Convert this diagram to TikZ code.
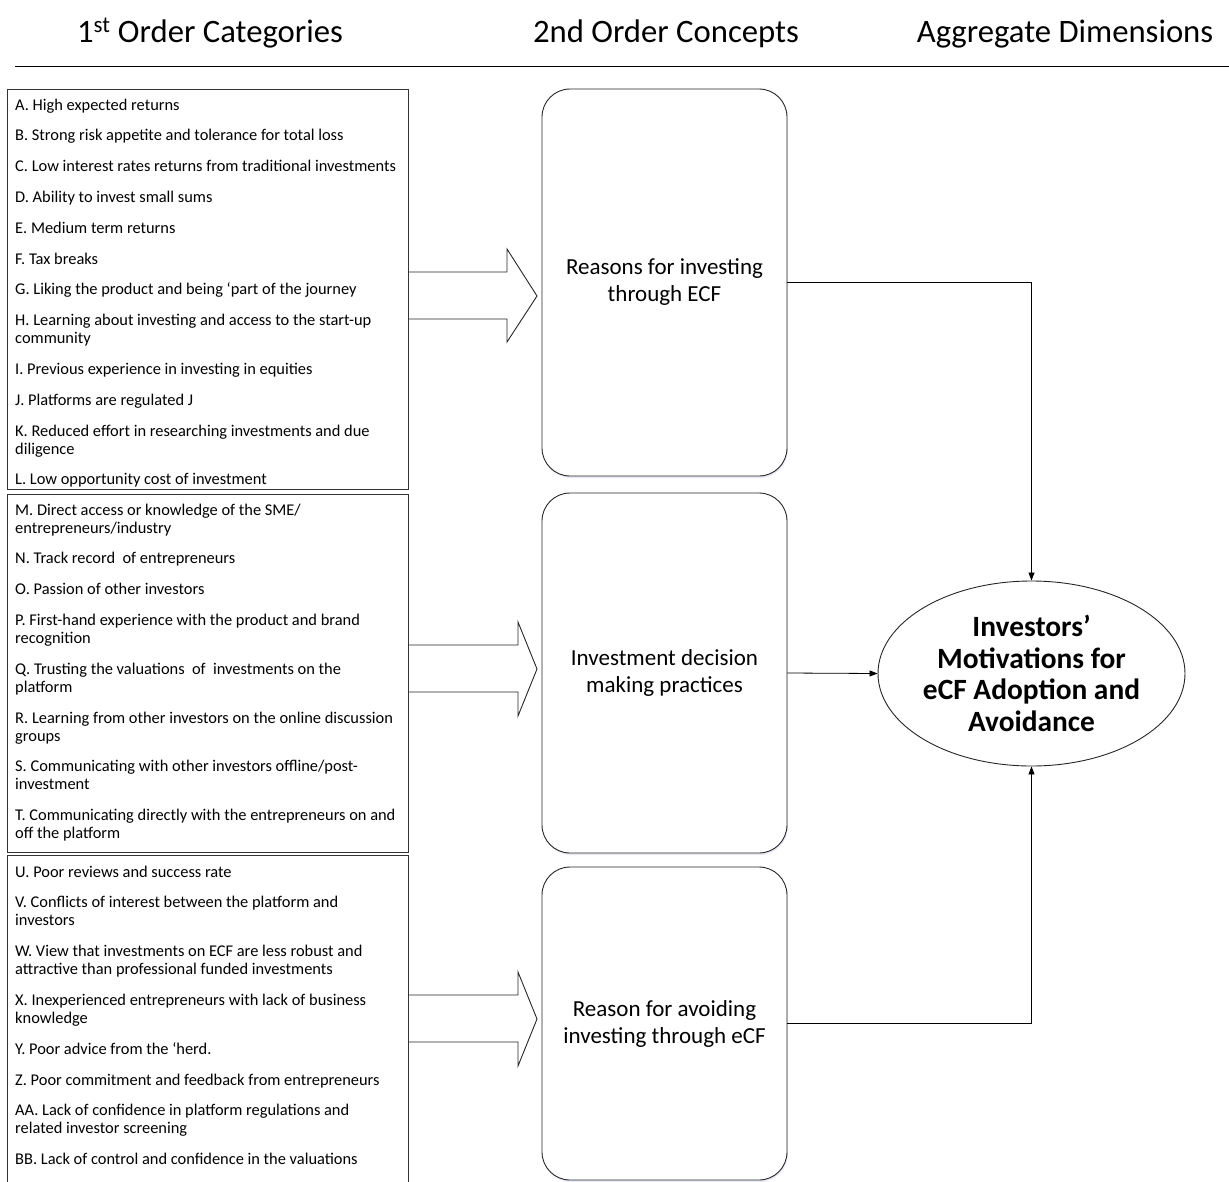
\documentclass[tikz,border=0pt]{standalone}
\usepackage{fontspec}
\setmainfont{Carlito}
\usetikzlibrary{arrows.meta,shapes.geometric,shadows}
\newcommand\ig{\\[12.8pt]}
\begin{document}
\begin{tikzpicture}[x=1pt,y=-1pt,
  header/.style={font=\fontsize{32.7}{36}\selectfont, anchor=base, inner sep=0pt},
  catbox/.style={draw=black!80, line width=0.9pt, anchor=north west, minimum width=401pt, inner sep=0pt},
  itemlist/.style={anchor=north west, align=left, inner sep=0pt, font=\fontsize{16.4}{18}\selectfont},
  concbox/.style={draw=black!85, line width=0.9pt, rounded corners=28pt, minimum width=245pt, inner sep=0pt, fill=white,
     drop shadow={fill=blue!40!gray, opacity=0.12, shadow xshift=0.8pt, shadow yshift=-2pt}},
  conctext/.style={align=center, font=\fontsize{23}{27}\selectfont, inner sep=0pt},
  blockarrow/.style={draw=black!85, line width=0.9pt, line join=miter},
  conn/.style={draw=black, line width=0.8pt, -{Triangle[length=8pt,width=6pt]}},
]
\useasboundingbox (0,0) rectangle (1229,1181);
\clip (0,0) rectangle (1229,1181);

% headers
\node[header] (h1) at (210,42) {1\textsuperscript{st} Order Categories};
\node[header] (h2) at (666,42) {2nd Order Concepts};
\node[header] (h3) at (1065,42) {Aggregate Dimensions};
\coordinate (ruleL) at (15,66);
\coordinate (ruleR) at (1229,66);
\draw[line width=0.9pt] (ruleL) -- (ruleR);

% left category boxes
\node[catbox, minimum height=400pt] (cat1) at (7,89) {};
\node[catbox, minimum height=358pt] (cat2) at (7,494) {};
\node[catbox, minimum height=360pt] (cat3) at (7,855) {};

\node[itemlist] (list1) at (15,97.2) {\strut A. High expected returns\ig
B. Strong risk appetite and tolerance for total loss\ig
C. Low interest rates returns from traditional investments\ig
D. Ability to invest small sums\ig
E. Medium term returns\ig
F. Tax breaks\ig
G. Liking the product and being ‘part of the journey\ig
H. Learning about investing and access to the start-up\\
community\ig
I. Previous experience in investing in equities\ig
J. Platforms are regulated J\ig
K. Reduced effort in researching investments and due\\
diligence\ig
L. Low opportunity cost of investment};

\node[itemlist] (list2) at (15,502.2) {\strut M. Direct access or knowledge of the SME/\\
entrepreneurs/industry\ig
N. Track record\ \ of entrepreneurs\ig
O. Passion of other investors\ig
P. First-hand experience with the product and brand\\
recognition\ig
Q. Trusting the valuations\ \ of\ \ investments on the\\
platform\ig
R. Learning from other investors on the online discussion\\
groups\ig
S. Communicating with other investors offline/post-\\
investment\ig
T. Communicating directly with the entrepreneurs on and\\
off the platform};

\node[itemlist] (list3) at (15,864.2) {\strut U. Poor reviews and success rate\ig
V. Conflicts of interest between the platform and\\
investors\ig
W. View that investments on ECF are less robust and\\
attractive than professional funded investments\ig
X. Inexperienced entrepreneurs with lack of business\\
knowledge\ig
Y. Poor advice from the ‘herd.\ig
Z. Poor commitment and feedback from entrepreneurs\ig
AA. Lack of confidence in platform regulations and\\
related investor screening\ig
BB. Lack of control and confidence in the valuations};

% second order concept boxes
\node[concbox, minimum height=387pt] (conc1) at (664.5,282.5) {};
\node[concbox, minimum height=360pt] (conc2) at (664.5,673) {};
\node[concbox, minimum height=313pt] (conc3) at (664.5,1023.5) {};
\node[conctext] (t1) at (conc1.center) {Reasons for investing\\through ECF};
\node[conctext] (t2) at (conc2.center) {Investment decision\\making practices};
\node[conctext] (t3) at (conc3.center) {Reason for avoiding\\investing through eCF};

% block arrows
\path[blockarrow] (cat1.east |- 0,272) -- (507,272) -- (507,249) -- (537,296) -- (507,342) -- (507,319) -- (cat1.east |- 0,319);
\path[blockarrow] (cat2.east |- 0,645) -- (518,645) -- (518,622) -- (537,669) -- (518,716) -- (518,692) -- (cat2.east |- 0,692);
\path[blockarrow] (cat3.east |- 0,995) -- (518,995) -- (518,972) -- (537,1019) -- (518,1066) -- (518,1042) -- (cat3.east |- 0,1042);

% aggregate dimension
\node[ellipse, draw=black!85, line width=0.9pt, minimum width=279pt, minimum height=185pt, inner sep=0pt,
  align=center, font=\bfseries\fontsize{29.4}{31.7}\selectfont] (goal) at (1031.5,673.5)
  {Investors’\\Motivations for\\eCF Adoption and\\Avoidance};

% connectors
\draw[conn] (conc1.east) -| (goal.north);
\draw[conn] (conc2.east) -- (goal.west);
\draw[conn] (conc3.east) -| (goal.south);
\end{tikzpicture}
\end{document}
